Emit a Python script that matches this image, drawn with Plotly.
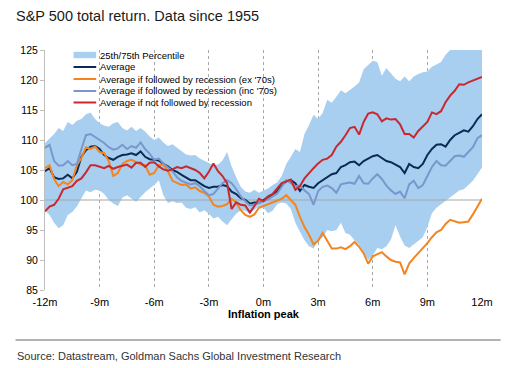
import plotly.graph_objects as go

# ---------------- data ----------------
months = [i / 4 for i in range(-48, 49)]  # -12m .. +12m, quarter-month steps

tick_vals = [-12, -9, -6, -3, 0, 3, 6, 9, 12]
tick_text = ["-12m", "-9m", "-6m", "-3m", "0m", "3m", "6m", "9m", "12m"]
y_ticks = [85, 90, 95, 100, 105, 110, 115, 120, 125]

band_lower = [
    98.3, 97.5, 96.2, 95.3, 95.8, 97.5, 98.0, 98.9, 100.3, 101.6, 101.3, 101.7,
    101.6, 101.0, 100.0, 99.4, 99.0, 100.4, 100.8, 100.3, 99.7, 100.5, 101.3, 101.9,
    102.5, 103.3, 100.8, 99.5, 99.8, 99.5, 99.6, 98.7, 98.5, 98.8, 97.9, 98.3,
    97.7, 96.9, 97.2, 96.4, 95.8, 96.8, 97.7, 98.3, 98.2, 97.8, 98.4, 98.9,
    98.7,
    97.8, 98.2, 99.3, 99.6, 99.4, 98.5, 96.2, 94.7, 93.3, 92.3, 91.9, 93.2,
    93.8, 95.0, 94.8, 95.0, 96.2, 94.5, 94.2, 93.3, 92.5, 91.2, 90.0, 90.8,
    92.0, 91.8, 92.3, 93.4, 95.8, 93.9, 92.4, 92.0, 92.6, 93.1, 93.8, 95.5,
    97.8, 98.7, 99.3, 99.8, 100.4, 101.0, 101.6, 101.8, 102.5, 103.2, 104.3, 105.4,
]
band_upper = [
    109.5, 110.3, 111.0, 112.0, 111.5, 113.0, 112.5, 113.2, 113.5, 114.3, 114.6, 113.5,
    112.8, 112.4, 112.2, 112.8, 113.0, 112.0, 111.6, 112.2, 111.5, 112.0, 111.4, 110.6,
    110.0, 110.4, 109.6, 109.0, 109.3, 108.7, 108.2, 107.6, 107.4, 107.5, 106.9, 106.5,
    106.1, 105.8, 105.9, 106.6, 108.0, 105.6, 103.8, 102.2, 101.4, 101.2, 101.7, 101.2,
    101.6,
    101.9, 102.5, 102.9, 104.0, 106.0, 107.2, 108.5, 108.0, 111.0, 112.5, 114.2, 113.5,
    114.5, 116.7, 116.2, 117.2, 118.3, 117.8, 118.3, 118.9, 119.6, 121.8, 122.5, 123.2,
    123.0, 120.7, 122.0, 121.0, 120.2, 119.8, 120.6, 119.8, 120.6, 121.0, 121.3, 121.4,
    122.2, 122.6, 123.0, 124.2, 125.0, 125.0, 125.0, 125.0, 125.0, 125.0, 125.0, 125.0,
]
average = [
    104.8, 105.3, 103.8, 103.5, 103.6, 104.2, 103.6, 104.7, 107.2, 108.3, 108.9, 109.0,
    108.5, 107.5, 107.0, 106.7, 107.2, 107.5, 107.6, 107.8, 107.5, 108.1, 107.2, 106.8,
    106.7, 106.6, 106.0, 105.6, 105.0, 104.7, 104.2, 103.7, 103.3, 103.3, 102.8, 102.3,
    102.0, 102.2, 102.2, 102.5, 102.3, 101.4, 101.0, 100.3, 100.0, 99.4, 99.6, 99.5,
    100.0,
    100.5, 100.8, 101.5, 102.5, 103.1, 103.3, 102.8, 101.5, 102.5, 102.2, 102.0, 102.8,
    103.3, 103.8, 104.3, 104.5, 105.5, 105.8, 106.3, 106.4, 105.8, 106.5, 106.9, 107.3,
    107.5, 107.0, 106.5, 106.3, 105.9, 105.5, 104.5, 106.0, 105.5, 105.3, 106.0, 107.5,
    108.5, 109.2, 109.3, 108.9, 110.0, 110.8, 111.2, 111.6, 111.4, 112.3, 113.5, 114.3,
]
recession_ex70s = [
    105.3, 105.8, 103.5, 102.3, 103.0, 102.6, 103.3, 105.8, 107.0, 108.8, 108.5, 108.9,
    108.0, 107.8, 106.5, 104.0, 104.5, 106.0, 106.5, 106.7, 106.3, 105.9, 105.8, 104.2,
    104.5, 105.8, 105.9, 104.8, 103.2, 102.8, 102.5, 102.6, 101.9, 102.1, 101.5, 101.2,
    100.6, 99.2, 98.9, 99.0, 99.3, 100.2, 99.6, 98.3, 97.5, 97.2, 97.6, 98.7,
    99.0,
    99.3, 99.5, 99.8, 100.2, 100.8, 100.0, 99.2, 97.2, 95.5, 94.2, 92.6, 93.2,
    94.5, 93.2, 91.9, 91.9, 92.1, 91.8, 92.3, 93.0, 92.2, 91.1, 89.4, 90.6,
    91.0, 91.3, 90.6, 90.0, 89.7, 89.6, 87.6, 89.4, 90.3, 91.1, 91.9, 92.8,
    93.8, 94.6, 95.0, 96.0, 96.7, 96.5, 96.2, 96.3, 96.4, 97.6, 98.8, 100.2,
]
recession_inc70s = [
    108.7, 109.2, 106.5, 105.7, 105.8, 106.5, 105.8, 106.0, 108.5, 110.8, 111.0, 110.5,
    110.0, 109.5, 108.8, 108.4, 108.6, 109.2, 108.5, 109.0, 108.7, 109.6, 108.5, 107.7,
    106.7, 106.9, 106.1, 105.4, 104.8, 103.8, 103.2, 102.9, 102.6, 102.8, 102.3, 101.5,
    100.8, 101.0, 101.9, 102.8, 103.3, 102.8, 101.8, 100.6, 99.8, 99.1, 99.2, 99.5,
    99.7,
    100.1, 100.6, 101.1, 102.2, 103.3, 102.8, 102.3, 102.4, 101.6, 101.0, 99.2, 101.5,
    102.2, 102.4, 102.0, 101.2, 102.6, 102.8, 102.9, 102.7, 104.0, 102.8, 102.7, 103.6,
    104.3, 103.5, 102.4, 101.6, 101.0, 101.4, 100.3, 102.6, 103.2, 102.0, 102.5, 104.0,
    105.5, 106.5, 105.8, 105.7, 106.5, 107.3, 107.4, 107.2, 108.0, 108.8, 110.3, 110.8,
]
no_recession = [
    98.1, 98.9, 99.2, 100.2, 101.8, 102.0, 102.3, 103.2, 103.6, 104.6, 105.8, 105.8,
    105.5, 105.3, 105.7, 105.2, 105.5, 105.7, 105.9, 105.4, 106.2, 106.2, 105.5, 106.2,
    106.3, 105.6, 105.1, 104.9, 105.1, 105.5, 105.3, 105.6, 105.3, 105.0, 104.5, 103.6,
    104.7, 106.1, 104.8, 104.0, 102.8, 98.5, 99.6, 99.2, 99.1, 97.9, 99.0, 100.2,
    99.8,
    100.6, 101.0, 102.0, 102.8, 103.1, 103.4, 101.7, 102.3, 103.6, 104.5, 105.3, 106.1,
    106.7, 106.9, 107.5, 108.9, 109.7, 110.8, 112.0, 112.2, 110.9, 113.0, 114.4, 114.6,
    114.3, 113.1, 113.6, 113.4, 113.5, 112.6, 111.0, 111.0, 110.4, 111.5, 112.3, 113.0,
    114.6, 114.3, 114.8, 116.3, 117.4, 118.2, 119.3, 119.2, 119.6, 119.9, 120.3, 120.5,
]

series_names = [
    "25th/75th Percentile",
    "Average",
    "Average if followed by recession (ex '70s)",
    "Average if followed by recession (inc '70s)",
    "Average if not followed by recession",
]
baseline = 100

for arr in (band_lower, band_upper, average, recession_ex70s, recession_inc70s, no_recession):
    assert len(arr) == len(months), len(arr)

# ---------------- style ----------------
BAND = "#a8cff0"
NAVY = "#0c2b52"
ORANGE = "#f5841f"
STEEL = "#7a97cd"
RED = "#c8282e"
line_colors = [NAVY, ORANGE, STEEL, RED]

# the page body adds an 8px margin; the figure is sized to fill the rest of the window
OFF = 8
W, H = 510 - OFF, 368 - OFF
# plot area in window pixels: x 38..482, y 50..290
ML, MR, MT, MB = 38 - OFF, 510 - 482, 50 - OFF, 368 - 290
PW, PH = W - ML - MR, H - MT - MB


def px_x(x):  # window pixel -> paper
    return (x - OFF - ML) / PW


def px_y(y):
    return (H - MB - (y - OFF)) / PH


fig = go.Figure()

fig.add_trace(go.Scatter(x=months, y=band_lower, mode="lines", line=dict(width=0),
                         hoverinfo="skip", showlegend=False))
fig.add_trace(go.Scatter(x=months, y=band_upper, mode="lines", line=dict(width=0),
                         fill="tonexty", fillcolor=BAND, name=series_names[0],
                         showlegend=False))
fig.add_trace(go.Scatter(x=[months[0], months[-1]], y=[baseline, baseline], mode="lines",
                         line=dict(color="#a6a6a6", width=1), hoverinfo="skip",
                         showlegend=False))

for name, ys, col in zip(series_names[1:],
                         [average, recession_ex70s, recession_inc70s, no_recession],
                         line_colors):
    fig.add_trace(go.Scatter(x=months, y=ys, mode="lines", name=name,
                             line=dict(color=col, width=2), showlegend=False))

# manual compact legend (top-left, inside the plot)
shapes = []
annotations = []
row_y = [55, 67, 79, 91, 102.5]
sym_x0, sym_x1, txt_x = 67, 90, 91.5
for i, name in enumerate(series_names):
    yc = row_y[i]
    if i == 0:
        shapes.append(dict(type="rect", xref="paper", yref="paper",
                           x0=px_x(sym_x0), x1=px_x(sym_x1),
                           y0=px_y(yc + 3.2), y1=px_y(yc - 3.2),
                           fillcolor=BAND, line=dict(width=0)))
    else:
        shapes.append(dict(type="line", xref="paper", yref="paper",
                           x0=px_x(sym_x0), x1=px_x(sym_x1),
                           y0=px_y(yc), y1=px_y(yc),
                           line=dict(color=line_colors[i - 1], width=2)))
    annotations.append(dict(text=name, xref="paper", yref="paper",
                            x=px_x(txt_x), y=px_y(yc), xanchor="left", yanchor="middle",
                            showarrow=False,
                            font=dict(family="Liberation Sans, Arial", size=9.5, color="#000")))

# title, source rule and source text
annotations.append(dict(text="S&P 500 total return. Data since 1955", xref="paper", yref="paper",
                        x=px_x(7.5), y=px_y(16), xanchor="left", yanchor="middle",
                        showarrow=False, borderpad=0,
                        font=dict(family="Liberation Sans, Arial", size=14.5, color="#1a1a1a")))
annotations.append(dict(text="Source: Datastream, Goldman Sachs Global Investment Research",
                        xref="paper", yref="paper", x=px_x(7.5), y=px_y(356),
                        xanchor="left", yanchor="middle", showarrow=False,
                        font=dict(family="Liberation Sans, Arial", size=11, color="#333")))
shapes.append(dict(type="line", xref="paper", yref="paper",
                   x0=px_x(8), x1=px_x(501), y0=px_y(340), y1=px_y(340),
                   line=dict(color="#9a9a9a", width=1.5)))

fig.update_layout(
    width=W, height=H,
    margin=dict(l=ML, r=MR, t=MT, b=MB, pad=0),
    paper_bgcolor="white", plot_bgcolor="white",
    showlegend=False,
    shapes=shapes, annotations=annotations,
    font=dict(family="Liberation Sans, Arial", color="#000"),
)
fig.update_xaxes(
    range=[-12, 12], tickvals=tick_vals, ticktext=tick_text,
    showgrid=True, gridcolor="#a8a8a8", griddash="dot", gridwidth=1,
    zeroline=False, showline=False, ticks="",
    ticklabelstandoff=4,
    tickfont=dict(size=11, color="#000"),
    title=dict(text="<b>Inflation peak</b>", font=dict(size=11, color="#000"), standoff=0),
)
fig.update_yaxes(
    range=[85, 125], tickvals=y_ticks,
    showgrid=False, zeroline=False, showline=True, linecolor="#bfbfbf", linewidth=1,
    ticks="outside", ticklen=4, tickcolor="#bfbfbf",
    tickfont=dict(size=10.5, color="#000"),
)

fig.write_html("out.html")
